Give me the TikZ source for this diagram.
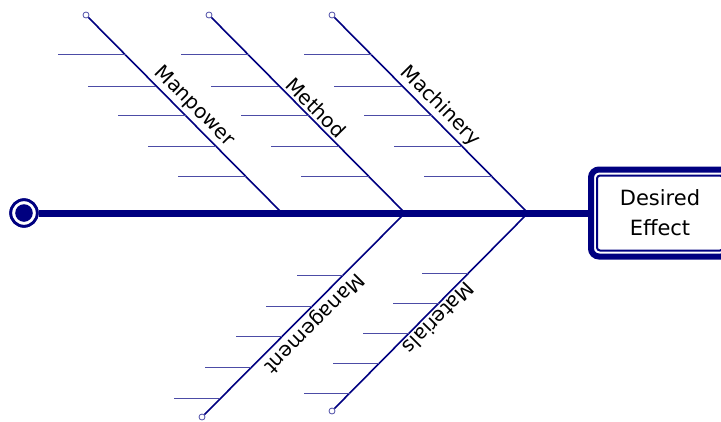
\documentclass[tikz,border=0pt]{standalone}
\usepackage{fontspec}
\setmainfont{DejaVu Sans}
\usetikzlibrary{calc}
\definecolor{fishnavy}{RGB}{0,0,128}

\begin{document}
\begin{tikzpicture}[x=1pt,y=-1pt]
  \def\lt{68}
  \def\lb{46}

\tikzstyle{tail}=[circle,draw=fishnavy,fill=white,line width=2.8pt,minimum size=26.5pt,inner sep=0pt,path picture={\fill[fishnavy] (path picture bounding box.center) circle (8.8pt);}]
\tikzstyle{tip}=[circle,draw=fishnavy!70,fill=white,line width=0.8pt,minimum size=6pt,inner sep=0pt]
\tikzstyle{effect}=[draw=fishnavy,fill=white,line width=2pt,rounded corners=3pt,minimum width=126pt,minimum height=75pt,align=center,font=\fontsize{21}{30}\selectfont]
\tikzstyle{frame}=[draw=fishnavy,line width=6pt,rounded corners=8pt]
\tikzstyle{spine}=[draw=fishnavy,line width=7pt,shorten >=5pt]
\tikzstyle{bone}=[draw=fishnavy,line width=1.6pt]
\tikzstyle{twig}=[draw=fishnavy!70,line width=1pt]
\tikzstyle{cause}=[font=\fontsize{20}{24}\selectfont,inner sep=2.5pt]
\useasboundingbox (0,0) rectangle (721,421);
\node[effect][] (E) at (660,213) {Desired\\Effect};
\draw[frame] ([shift={(-5pt,5pt)}]E.north west) rectangle ([shift={(5pt,-5pt)}]E.south east);
\node[tail][] (tail) at (24,213) {};
\draw[spine] (tail) -- (E);
\node[tail][] (tail) at (24,213) {};
\coordinate (J1) at (282,213);
\coordinate (J2) at (405,213);
\coordinate (J3) at (528,213);
\node[tip][] (T1) at (86,15) {};
\node[tip][] (T2) at (209,15) {};
\node[tip][] (T3) at (332,15) {};
\node[tip][] (B1) at (202,417) {};
\node[tip][] (B2) at (332,411) {};
\draw[bone] (T1) -- node[cause,pos=0.5,sloped,above] {Manpower} (J1);
\draw[twig] ($(T1)!0.202!(J1)$) -- ++(-\lt,0);
\draw[twig] ($(T1)!0.359!(J1)$) -- ++(-\lt,0);
\draw[twig] ($(T1)!0.510!(J1)$) -- ++(-\lt,0);
\draw[twig] ($(T1)!0.662!(J1)$) -- ++(-\lt,0);
\draw[twig] ($(T1)!0.818!(J1)$) -- ++(-\lt,0);
\draw[bone] (T2) -- node[cause,pos=0.5,sloped,above] {Method} (J2);
\draw[twig] ($(T2)!0.202!(J2)$) -- ++(-\lt,0);
\draw[twig] ($(T2)!0.359!(J2)$) -- ++(-\lt,0);
\draw[twig] ($(T2)!0.510!(J2)$) -- ++(-\lt,0);
\draw[twig] ($(T2)!0.662!(J2)$) -- ++(-\lt,0);
\draw[twig] ($(T2)!0.818!(J2)$) -- ++(-\lt,0);
\draw[bone] (T3) -- node[cause,pos=0.5,sloped,above] {Machinery} (J3);
\draw[twig] ($(T3)!0.202!(J3)$) -- ++(-\lt,0);
\draw[twig] ($(T3)!0.359!(J3)$) -- ++(-\lt,0);
\draw[twig] ($(T3)!0.510!(J3)$) -- ++(-\lt,0);
\draw[twig] ($(T3)!0.662!(J3)$) -- ++(-\lt,0);
\draw[twig] ($(T3)!0.818!(J3)$) -- ++(-\lt,0);
\draw[bone] (J2) -- node[cause,pos=0.5,sloped,allow upside down,above] {Management} (B1);
\draw[twig] ($(J2)!0.306!(B1)$) -- ++(-\lb,0);
\draw[twig] ($(J2)!0.456!(B1)$) -- ++(-\lb,0);
\draw[twig] ($(J2)!0.607!(B1)$) -- ++(-\lb,0);
\draw[twig] ($(J2)!0.759!(B1)$) -- ++(-\lb,0);
\draw[twig] ($(J2)!0.910!(B1)$) -- ++(-\lb,0);
\draw[bone] (J3) -- node[cause,pos=0.5,sloped,allow upside down,above] {Materials} (B2);
\draw[twig] ($(J3)!0.306!(B2)$) -- ++(-\lb,0);
\draw[twig] ($(J3)!0.456!(B2)$) -- ++(-\lb,0);
\draw[twig] ($(J3)!0.607!(B2)$) -- ++(-\lb,0);
\draw[twig] ($(J3)!0.759!(B2)$) -- ++(-\lb,0);
\draw[twig] ($(J3)!0.910!(B2)$) -- ++(-\lb,0);
\end{tikzpicture}
\end{document}
